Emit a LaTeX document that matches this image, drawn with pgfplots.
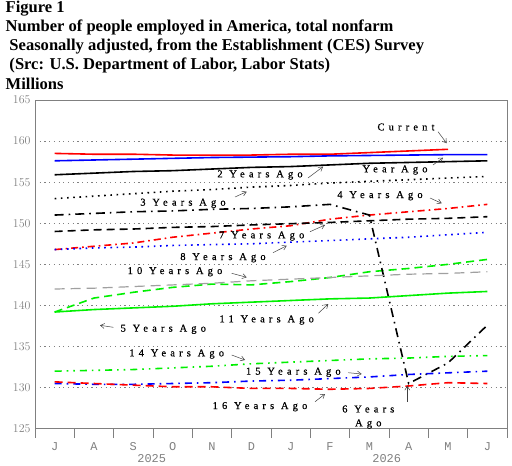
\documentclass[border=0pt]{standalone}
\usepackage{fontspec}
\usepackage{pgfplots}
\usepackage{pgfplotstable}
\pgfplotsset{compat=1.18}
\usetikzlibrary{arrows.meta}
\setmainfont{Liberation Serif}
\newfontfamily\labfont[LetterSpace=40,FakeBold=0.6]{Liberation Serif}
\newfontfamily\tickfont{Liberation Mono}
\definecolor{fgray}{RGB}{128,128,128}
\definecolor{lgray}{RGB}{160,160,160}
\definecolor{pred}{RGB}{255,0,0}
\definecolor{pblue}{RGB}{0,0,255}
\definecolor{pgreen}{RGB}{0,240,0}

\pgfplotstableread{
x    cur   y1     y2    y3    y4    y5    y6    y7     y8    y10   y11   y14   y15   y16
0.5  158.5 157.6  155.9 153.0 146.8 139.2 151.0 149.0  146.8 142.0 139.2 132.0 130.5 130.7
1.5  158.4 157.7  156.1 153.3 147.2 140.9 151.2 149.2  147.0 142.1 139.5 132.1 130.4 130.5
2.5  158.4 157.8  156.3 153.6 147.6 141.6 151.4 149.3  147.1 142.3 139.7 132.2 130.4 130.3
3.5  158.3 157.9  156.4 153.9 148.3 142.2 151.5 149.5  147.3 142.5 139.9 132.4 130.5 130.1
4.5  158.3 158.0  156.6 154.1 148.8 142.6 151.7 149.6  147.4 142.7 140.2 132.6 130.6 130.1
5.5  158.3 158.05 156.8 154.4 149.3 142.5 151.8 149.8  147.5 143.0 140.4 132.9 130.8 129.9
6.5  158.4 158.1  156.9 154.6 149.7 142.9 152.0 149.95 147.7 143.2 140.6 133.1 130.9 129.9
7.5  158.4 158.2  157.1 154.9 150.5 143.4 152.3 150.1  147.9 143.4 140.8 133.3 131.1 129.8
8.5  158.6 158.25 157.3 155.1 151.0 144.1 151.0 150.3  148.1 143.6 140.9 133.5 131.3 129.9
9.5  158.8 158.3  157.4 155.3 151.4 144.5 130.5 150.5  148.3 143.8 141.2 133.6 131.6 130.2
10.5 159.0 158.35 157.5 155.5 151.8 145.0 133.0 150.6  148.6 143.9 141.5 133.8 131.8 130.6
11.5 nan   158.35 157.6 155.7 152.3 145.6 137.6 150.8  148.9 144.1 141.7 133.9 132.0 130.5
}\datatable

\begin{document}
\begin{tikzpicture}
\begin{axis}[
  at={(35bp,-428.7bp)}, anchor=south west,
  scale only axis, width=472bp, height=328.7bp,
  xmin=0, xmax=12, ymin=125, ymax=165,
  axis line style={fgray, line width=0.8bp},
  clip=false,
  ytick={125,130,...,165},
  yticklabel style={font=\tickfont\fontsize{12}{12}\selectfont, text=fgray, xshift=-1bp},
  ymajorgrids, grid style={fgray, line width=0.7bp, dash pattern=on 1.2bp off 3.5bp},
  major tick length=0pt,
  xtick={0.5,1.5,...,11.5},
  xticklabels={J,A,S,O,N,D,J,F,M,A,M,J},
  xticklabel style={font=\tickfont\fontsize{12}{12}\selectfont, text=fgray, yshift=-10bp},
  minor xtick={1,...,11},
  minor tick length=9.5bp,
  xtick align=outside,
  minor tick style={fgray, line width=0.8bp},
  tick pos=left,
  unbounded coords=discard,
]
\addplot[pred, line width=1.6bp] table[x=x,y=cur]{\datatable};
\addplot[pblue, line width=1.6bp] table[x=x,y=y1]{\datatable};
\addplot[black, line width=1.6bp] table[x=x,y=y2]{\datatable};
\addplot[black, line width=1.6bp, dash pattern=on 1.6bp off 4.6bp] table[x=x,y=y3]{\datatable};
\addplot[pred, line width=1.6bp, dash pattern=on 7bp off 4bp on 1.6bp off 4bp] table[x=x,y=y4]{\datatable};
\addplot[pgreen, line width=1.6bp, dash pattern=on 8bp off 5bp] table[x=x,y=y5]{\datatable};
\addplot[black, line width=1.6bp, dash pattern=on 9bp off 5bp on 1.6bp off 5bp] table[x=x,y=y6]{\datatable};
\addplot[black, line width=1.6bp, dash pattern=on 8bp off 5bp] table[x=x,y=y7]{\datatable};
\addplot[pblue, line width=1.6bp, dash pattern=on 1.6bp off 4.6bp] table[x=x,y=y8]{\datatable};
\addplot[lgray, line width=1.2bp, dash pattern=on 10bp off 6bp] table[x=x,y=y10]{\datatable};
\addplot[pgreen, line width=1.6bp] table[x=x,y=y11]{\datatable};
\addplot[pgreen, line width=1.6bp, dash pattern=on 7bp off 5bp on 1.6bp off 5bp on 1.6bp off 5bp] table[x=x,y=y14]{\datatable};
\addplot[pblue, line width=1.6bp, dash pattern=on 7bp off 5bp on 1.6bp off 5bp] table[x=x,y=y15]{\datatable};
\addplot[pred, line width=1.6bp, dash pattern=on 8bp off 5bp] table[x=x,y=y16]{\datatable};
\end{axis}
\begin{scope}[x=1bp,y=-1bp]
\path[use as bounding box] (0,0) rectangle (512,466);
% extended frame sides
\draw[fgray, line width=0.8bp] (35,428.7) -- (35,438.3);
\draw[fgray, line width=0.8bp] (507,428.7) -- (507,438.3);
% year labels
\node[inner sep=0, text=fgray, font=\tickfont\fontsize{12}{12}\selectfont] at (151.7,458.8) {2025};
\node[inner sep=0, text=fgray, font=\tickfont\fontsize{12}{12}\selectfont] at (386.7,458.8) {2026};
% title
\begin{scope}[every node/.style={inner sep=0, anchor=base west, font=\bfseries\fontsize{16.6}{16}\selectfont}]
\node at (5.5,12.7) {Figure 1};
\node at (5.5,31.7) {Number of people employed in America, total nonfarm};
\node at (9.3,50.5) {Seasonally adjusted, from the Establishment (CES) Survey};
\node at (9.3,70) {(Src: U.S. Department of Labor, Labor Stats)};
\node at (5.5,89.3) {Millions};
\end{scope}
% series labels
\begin{scope}[every node/.style={inner sep=0, anchor=center, font=\labfont\fontsize{10.5}{10.5}\selectfont},
  arr/.style={black!75, line width=0.5bp, -{Straight Barb[length=4bp,width=5bp]}}]
\node at (406,127) {Current};
\draw[arr] (438,131.7) -- (446.7,143.3);
\node at (395,170) {Year Ago};
\draw[arr] (433,165) -- (443,157.7);
\node at (260,175) {2 Years Ago};
\draw[arr] (308,178) -- (323,166.7);
\node at (183,203.3) {3 Years Ago};
\draw[arr] (235,197) -- (246.7,191.7);
\node at (380,195.7) {4 Years Ago};
\draw[arr] (430,198) -- (441.7,203.3);
\node at (261.7,236) {7 Years Ago};
\draw[arr] (310,231.7) -- (325,225);
\node at (223,257.7) {8 Years Ago};
\draw[arr] (273,252.7) -- (286.7,245.7);
\node at (175,271.7) {10 Years Ago};
\draw[arr] (231.7,273.3) -- (246.7,277.3);
\node at (266.7,320) {11 Years Ago};
\draw[arr] (318.3,313.3) -- (328.3,304);
\node at (163.3,329.3) {5 Years Ago};
\draw[arr] (113.3,327.3) -- (100,325.3);
\node at (176.7,354) {14 Years Ago};
\draw[arr] (231.7,355) -- (245,360);
\node at (293.3,372.3) {15 Years Ago};
\draw[arr] (348.3,372.7) -- (361.7,374);
\node at (260,406.7) {16 Years Ago};
\draw[arr] (315,401.7) -- (325,394);
\node at (368.3,409) {6 Years};
\node at (368.3,424) {Ago};
\draw[arr] (407.3,401.7) -- (407.3,385.7);
\end{scope}
\end{scope}
\end{tikzpicture}
\end{document}
